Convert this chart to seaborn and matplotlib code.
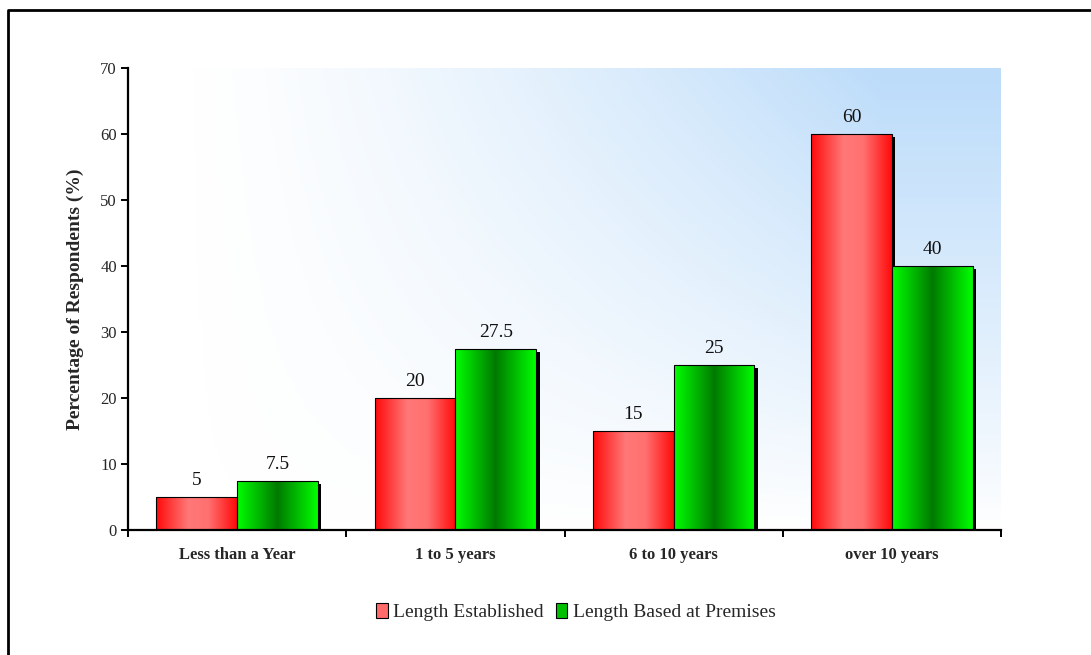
import numpy as np
import pandas as pd
import matplotlib
matplotlib.use("Agg")
import matplotlib.pyplot as plt
import matplotlib.transforms as mtransforms
from matplotlib.colors import LinearSegmentedColormap
from matplotlib.patches import Rectangle
from matplotlib.lines import Line2D
import seaborn as sns

categories = ["Less than a Year", "1 to 5 years", "6 to 10 years", "over 10 years"]
series_names = ["Length Established", "Length Based at Premises"]
established = [5, 20, 15, 60]
premises = [7.5, 27.5, 25, 40]
y_ticks = [0, 10, 20, 30, 40, 50, 60, 70]

df = pd.DataFrame({
    "category": categories * 2,
    "value": established + premises,
    "series": [series_names[0]] * 4 + [series_names[1]] * 4,
})

sns.set_theme(style="white")
plt.rcParams["font.family"] = ["Liberation Serif", "DejaVu Serif"]

fig = plt.figure(figsize=(10.91, 6.55), dpi=100)
ax = fig.add_axes([128 / 1091, 1 - 530 / 655, (1001 - 128) / 1091, (530 - 68) / 655])

red_base, green_base = "#ff6060", "#00c000"
palette = {series_names[0]: red_base, series_names[1]: green_base}
sns.barplot(data=df, x="category", y="value", hue="series", order=categories,
            hue_order=series_names, palette=palette, width=0.74, saturation=1,
            edgecolor="black", linewidth=0.8, legend=False, ax=ax, zorder=3)

ax.set_ylim(0, 70)
ax.set_xlim(-0.5, 3.5)

# plot-area background: white fading to light blue towards the upper right
gx, gy = np.meshgrid(np.linspace(0, 1, 300), np.linspace(0, 1, 200))
t = np.clip(gx * 1.25 - 0.08, 0, 1) ** 1.3 * np.clip(gy, 0, 1) ** 0.9
bg_cmap = LinearSegmentedColormap.from_list("bg", ["#ffffff", "#bcdcfa"])
ax.imshow(t, cmap=bg_cmap, vmin=0, vmax=1, extent=[-0.5, 3.5, 0, 70],
          origin="lower", aspect="auto", zorder=0, interpolation="bilinear")

# cylinder-like horizontal shading for each bar
red_cmap = LinearSegmentedColormap.from_list(
    "red", [(0, "#ff0a0a"), (0.4, "#ff7878"), (0.65, "#ff7070"), (1, "#ff0a0a")])
green_cmap = LinearSegmentedColormap.from_list(
    "green", [(0, "#00ff00"), (0.5, "#007a00"), (1, "#00ff00")])
ramp = np.linspace(0, 1, 256).reshape(1, -1)

bars = [p for p in ax.patches if isinstance(p, Rectangle) and p.get_height() > 0]
shadow_tf = mtransforms.offset_copy(ax.transData, fig=fig, x=3.5, y=-3.0, units="dots")
for bar in bars:
    x0, w, h = bar.get_x(), bar.get_width(), bar.get_height()
    is_red = np.allclose(bar.get_facecolor()[:3], matplotlib.colors.to_rgb(red_base), atol=0.05)
    cmap = red_cmap if is_red else green_cmap
    img = ax.imshow(ramp, cmap=cmap, extent=[x0, x0 + w, 0, h], aspect="auto",
                    zorder=3.5, interpolation="bilinear")
    img.set_clip_path(bar)
    bar.set_facecolor("none")
    bar.set_zorder(4)
    shadow = Rectangle((x0, 0), w, h, transform=shadow_tf, facecolor="black",
                       edgecolor="none", zorder=2.5)
    shadow.set_clip_box(ax.bbox)
    ax.add_patch(shadow)
    ax.text(x0 + w / 2, h + 1.2, f"{h:g}", ha="center", va="bottom",
            fontsize=14, color="#111111", zorder=5)

# axes styling
for side in ["top", "right"]:
    ax.spines[side].set_visible(False)
for side in ["left", "bottom"]:
    ax.spines[side].set_color("black")
    ax.spines[side].set_linewidth(1.6)
    ax.spines[side].set_zorder(6)

ax.set_yticks(y_ticks)
ax.set_yticklabels([str(v) for v in y_ticks], fontsize=12)
ax.tick_params(axis="y", direction="out", length=5, width=1.4, color="black",
               left=True, pad=3)

ax.set_xticks([-0.5, 0.5, 1.5, 2.5, 3.5])
ax.set_xticklabels([])
ax.set_xticks(range(len(categories)), minor=True)
ax.set_xticklabels(categories, minor=True, fontsize=12, fontweight="bold")
ax.tick_params(axis="x", which="major", direction="out", length=5, width=1.4,
               color="black", bottom=True)
ax.tick_params(axis="x", which="minor", length=0, pad=12)

ax.set_xlabel("")
ax.set_ylabel("Percentage of Respondents (%)", fontsize=14, fontweight="bold", labelpad=12)
ax.grid(False)

# legend
handles = [Rectangle((0, 0), 1, 1, facecolor="#ff6a6a", edgecolor="black", linewidth=0.8),
           Rectangle((0, 0), 1, 1, facecolor="#00c000", edgecolor="black", linewidth=0.8)]
fig.legend(handles, series_names, loc="center", bbox_to_anchor=(576 / 1091, 1 - 612 / 655),
           ncol=2, frameon=False, fontsize=14, handlelength=0.6, handleheight=0.8,
           handletextpad=0.3, columnspacing=0.6)

# outer frame (top and left edges)
fig.add_artist(Line2D([8 / 1091, 8 / 1091, 1.0], [0.0, 1 - 10 / 655, 1 - 10 / 655],
                      transform=fig.transFigure, color="black", linewidth=2))

fig.savefig("out.png", dpi=100)
